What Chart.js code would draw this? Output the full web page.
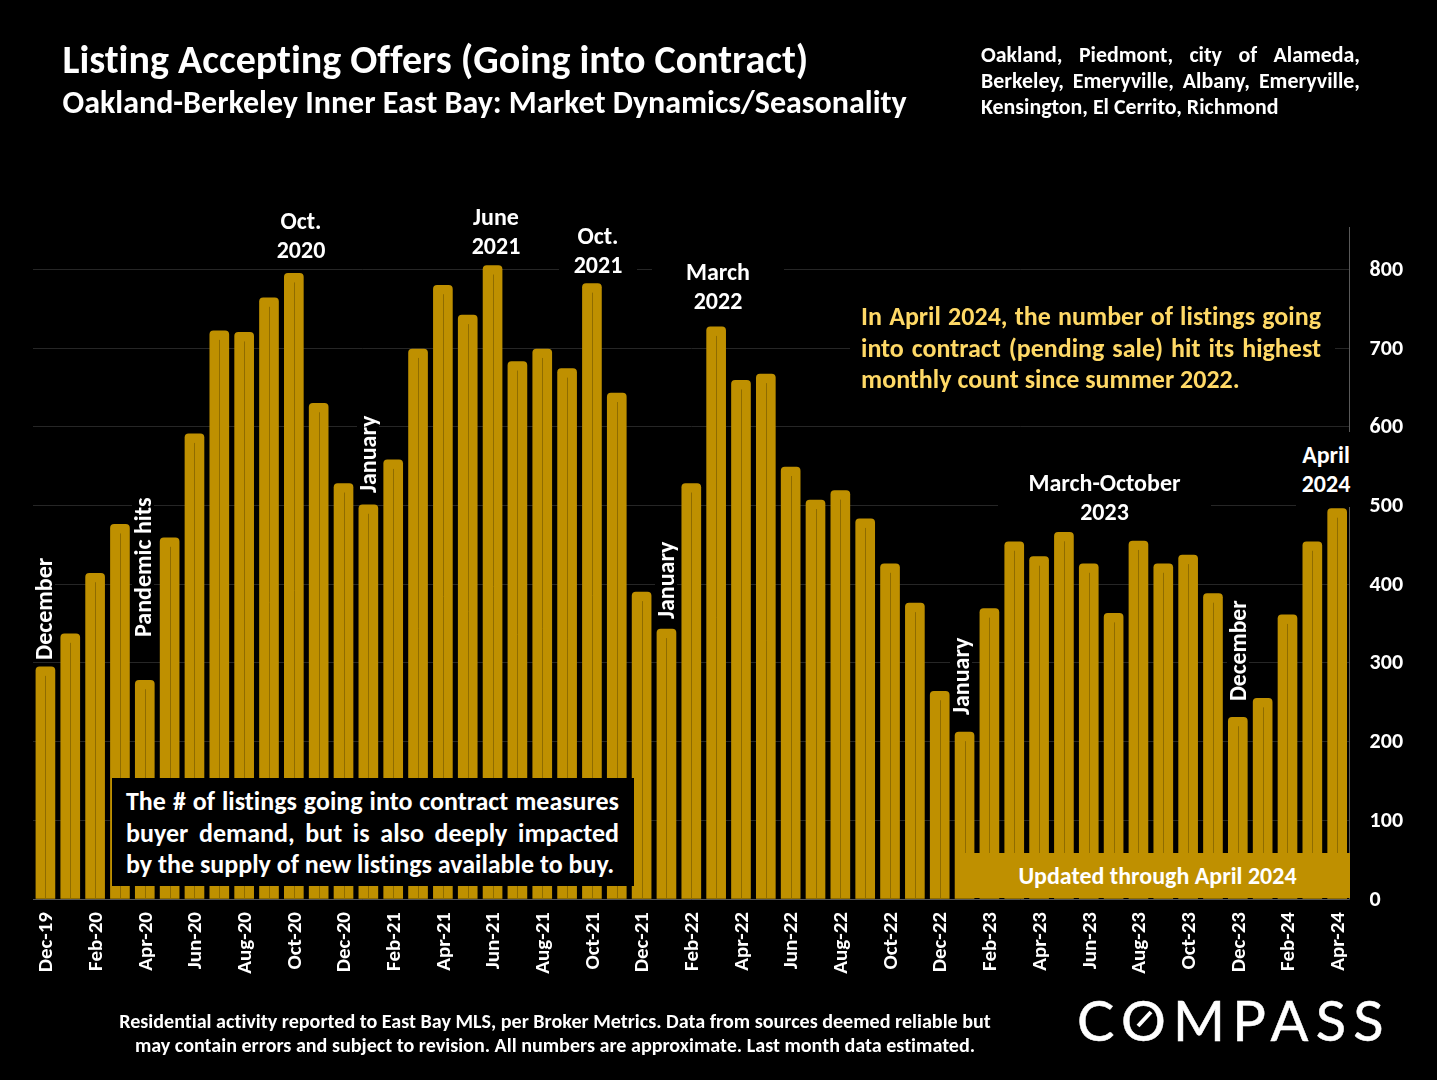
<!DOCTYPE html>
<html><head><meta charset="utf-8">
<style>
html,body{margin:0;padding:0;background:#000;width:1437px;height:1080px;overflow:hidden}
body{position:relative;font-family:Carlito,Lato,"Open Sans",sans-serif;font-weight:700;color:#fff;font-variant-ligatures:none}
canvas{position:absolute;left:0;top:0}
.t{position:absolute;white-space:nowrap}
.c{text-align:center}
.j{text-align:justify;text-align-last:justify;display:block;white-space:normal}
.v{position:absolute;white-space:nowrap;transform-origin:0 0;transform:rotate(-90deg);font-size:24px;line-height:22px;background:#000;padding:0 2px}
.a{position:absolute;background:#000;text-align:center;font-size:24px;line-height:28.5px;white-space:nowrap}
</style></head><body>
<canvas id="c" width="1437" height="1080"></canvas>

<div class="t" style="left:62.5px;top:38px;font-size:40px;line-height:44px">Listing Accepting Offers (Going into Contract)</div>
<div class="t" style="left:62.5px;top:85px;font-size:32px;line-height:36px">Oakland-Berkeley Inner East Bay: Market Dynamics/Seasonality</div>
<div class="t" style="left:981px;top:42px;width:379px;font-size:21.9px;line-height:26px;white-space:normal">
<span class="j">Oakland, Piedmont, city of Alameda,</span><span class="j">Berkeley, Emeryville, Albany, Emeryville,</span><span>Kensington, El Cerrito, Richmond</span></div>

<div class="a" style="left:262px;top:207px;width:78px">Oct.<br>2020</div>
<div class="a" style="left:457px;top:203px;width:78px">June<br>2021</div>
<div class="a" style="left:559px;top:222px;width:78px">Oct.<br>2021</div>
<div class="a" style="left:652px;top:258px;width:132px">March<br>2022</div>
<div class="a" style="left:998px;top:469px;width:213px">March-October<br>2023</div>
<div class="a" style="left:1296px;top:432px;width:60px;height:75px;padding-top:9px;box-sizing:border-box">April<br>2024</div>

<div class="v" style="left:33px;top:662px">December</div>
<div class="v" style="left:132px;top:639px">Pandemic hits</div>
<div class="v" style="left:357px;top:495px">January</div>
<div class="v" style="left:655px;top:621px">January</div>
<div class="v" style="left:950px;top:717px">January</div>
<div class="v" style="left:1227px;top:703px;font-size:23.6px">December</div>

<div class="t" style="left:850px;top:301px;width:460px;padding:0 14px 0 11px;height:95px;background:#000;color:#ffd966;font-size:26px;line-height:31.5px;white-space:normal">
<span class="j">In April 2024, the number of listings going</span><span class="j">into contract (pending sale) hit its highest</span><span>monthly count since summer 2022.</span></div>

<div class="t" style="left:112px;top:778px;width:493px;height:100px;padding:8px 15px 0 14px;background:#000;font-size:26px;line-height:31.5px;white-space:normal">
<span class="j">The # of listings going into contract measures</span><span class="j">buyer demand, but is also deeply impacted</span><span>by the supply of new listings available to buy.</span></div>

<div class="t c" style="left:965px;top:853px;width:385px;height:45px;background:#bf9000;font-size:24px;line-height:46px">Updated through April 2024</div>

<div class="t c" style="left:60px;top:1009px;width:990px;font-size:20.1px;line-height:24px">Residential activity reported to East Bay MLS, per Broker Metrics. Data from sources deemed reliable but<br>may contain errors and subject to revision. All numbers are approximate. Last month data estimated.</div>

<div class="t" id="logo" style="left:1077px;top:987px;font-family:Lato,sans-serif;font-weight:400;font-size:56px;line-height:66px;letter-spacing:7.3px;-webkit-text-stroke:.5px #fff">COMPASS</div>
<svg style="position:absolute;left:1130px;top:1004px" width="30" height="30"><line x1="8" y1="22" x2="21" y2="8" stroke="#fff" stroke-width="4"/></svg>

<script src="https://cdn.jsdelivr.net/npm/chart.js@4"></script>
<script>
const categories = ["Dec-19","Jan-20","Feb-20","Mar-20","Apr-20","May-20","Jun-20","Jul-20","Aug-20","Sep-20","Oct-20","Nov-20",
"Dec-20","Jan-21","Feb-21","Mar-21","Apr-21","May-21","Jun-21","Jul-21","Aug-21","Sep-21","Oct-21","Nov-21",
"Dec-21","Jan-22","Feb-22","Mar-22","Apr-22","May-22","Jun-22","Jul-22","Aug-22","Sep-22","Oct-22","Nov-22",
"Dec-22","Jan-23","Feb-23","Mar-23","Apr-23","May-23","Jun-23","Jul-23","Aug-23","Sep-23","Oct-23","Nov-23",
"Dec-23","Jan-24","Feb-24","Mar-24","Apr-24"];
const listings = [295,337,414,476,278,459,591,722,720,764,795,630,
528,501,558,699,780,742,805,683,699,674,782,643,
390,343,528,727,659,667,549,507,519,483,426,376,
264,212,369,454,435,466,426,363,455,426,437,388,
231,255,361,454,496];
const yTicks = [0,100,200,300,400,500,600,700,800];

const centerLines = {
  id:'centerLines',
  afterDatasetsDraw(chart){
    const {ctx} = chart;
    ctx.save();
    ctx.strokeStyle = '#8f6c00';
    ctx.lineWidth = 1;
    chart.getDatasetMeta(0).data.forEach(b=>{
      const x = Math.round(b.x)+0.5;
      ctx.beginPath();ctx.moveTo(x,b.y+9);ctx.lineTo(x,b.base);ctx.stroke();
    });
    ctx.restore();
  }
};
const rightAxisLine = {
  id:'rightAxisLine',
  beforeDatasetsDraw(chart){
    const {ctx,chartArea:a} = chart;
    ctx.save();ctx.strokeStyle='#595959';ctx.lineWidth=1;
    ctx.beginPath();ctx.moveTo(Math.round(a.right)-0.5,a.top);ctx.lineTo(Math.round(a.right)-0.5,a.bottom);ctx.stroke();
    ctx.beginPath();ctx.moveTo(a.left,a.bottom+0.5);ctx.lineTo(a.right,a.bottom+0.5);ctx.stroke();
    ctx.restore();
  }
};

new Chart(document.getElementById('c'),{
  type:'bar',
  data:{labels:categories,datasets:[{data:listings,backgroundColor:'#bf9000',borderWidth:0,
    barThickness:19,borderRadius:{topLeft:4,topRight:4,bottomLeft:0,bottomRight:0},borderSkipped:false}]},
  options:{
    responsive:false,animation:false,devicePixelRatio:1,
    layout:{padding:{left:33,top:227,right:0,bottom:0}},
    plugins:{legend:{display:false},tooltip:{enabled:false},title:{display:false}},
    scales:{
      x:{
        afterFit(s){s.height=181;},
        grid:{display:false,drawTicks:false},
        border:{display:false},
        ticks:{autoSkip:false,maxRotation:90,minRotation:90,padding:13,labelOffset:1.5,color:'#fff',
          font:{family:'Carlito,Lato,sans-serif',weight:'700',size:21},
          callback(v,i){return i%2===0?categories[i]:'';}}
      },
      y:{
        position:'right',min:0,max:854,
        afterFit(s){s.width=87.4;},
        afterBuildTicks(s){s.ticks=yTicks.map(v=>({value:v}));},
        grid:{color:'#262626',lineWidth:1,drawTicks:false},
        border:{display:false},
        ticks:{padding:20,labelOffset:1,color:'#fff',includeBounds:false,
          font:{family:'Carlito,Lato,sans-serif',weight:'700',size:22}}
      }
    }
  },
  plugins:[rightAxisLine,centerLines]
});
</script>
</body></html>
